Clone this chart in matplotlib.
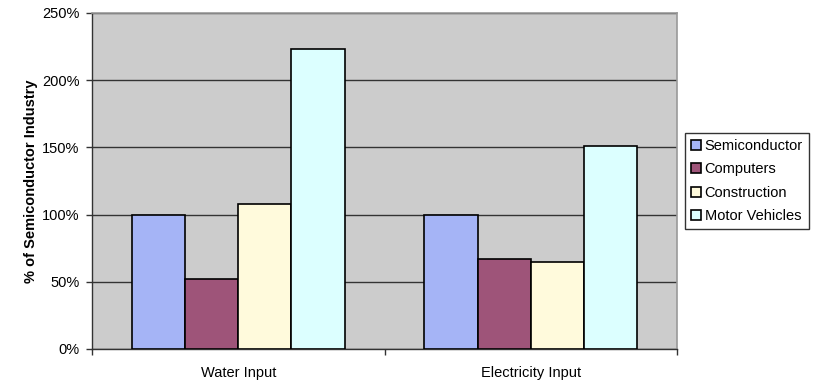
import matplotlib
matplotlib.use("Agg")
import matplotlib.pyplot as plt
from matplotlib.ticker import FixedLocator, PercentFormatter

plt.rcParams['font.family'] = ['Liberation Sans', 'DejaVu Sans']

categories = ["Water Input", "Electricity Input"]
series_names = ["Semiconductor", "Computers", "Construction", "Motor Vehicles"]
semiconductor = [100, 100]
computers = [52, 67]
construction = [108, 65]
motor_vehicles = [223, 151]
series_values = [semiconductor, computers, construction, motor_vehicles]
colors = ["#A5B4F6", "#9E5479", "#FFFADC", "#DCFFFF"]
y_ticks = [0, 50, 100, 150, 200, 250]

FS = 10.5

fig = plt.figure(figsize=(8.25, 3.84), dpi=100)
ax = fig.add_axes([92 / 825, 1 - 349 / 384, 585 / 825, 336 / 384])
ax.set_facecolor("#CCCCCC")

n = len(series_names)
width = 1 / (n + 1.5)
xs = list(range(len(categories)))
for i, (name, vals, col) in enumerate(zip(series_names, series_values, colors)):
    offs = [x + (i - (n - 1) / 2) * width for x in xs]
    ax.bar(offs, vals, width=width, color=col, edgecolor="black",
           linewidth=1.2, label=name, zorder=3)

ax.set_xlim(-0.5, len(categories) - 0.5)
ax.set_ylim(0, 250)
ax.yaxis.set_major_locator(FixedLocator(y_ticks))
ax.yaxis.set_major_formatter(PercentFormatter(decimals=0))
ax.grid(axis="y", color="#333333", linewidth=1.0, zorder=1)
ax.set_axisbelow(True)

ax.set_xticks(xs)
ax.set_xticklabels(categories)
ax.xaxis.set_minor_locator(FixedLocator([-0.5, 0.5, 1.5]))
ax.tick_params(axis="x", which="major", length=0, pad=12, labelsize=FS)
ax.tick_params(axis="x", which="minor", length=4, width=1, color="#333333")
ax.tick_params(axis="y", length=4, width=1, color="#333333", labelsize=FS, pad=5)

for side in ["top", "right"]:
    ax.spines[side].set_color("#999999")
    ax.spines[side].set_linewidth(1.2)
ax.spines["left"].set_color("#333333")
ax.spines["bottom"].set_color("#333333")
ax.spines["left"].set_linewidth(1.0)
ax.spines["bottom"].set_linewidth(1.0)

ax.set_ylabel("% of Semiconductor Industry", fontsize=FS, fontweight="bold", labelpad=3)

leg = ax.legend(loc="upper left", bbox_to_anchor=(685 / 825, 1 - 133 / 384),
                bbox_transform=fig.transFigure, frameon=True, fancybox=False,
                edgecolor="black", fontsize=FS, handlelength=0.7, handleheight=0.7,
                handletextpad=0.25, borderpad=0.4, labelspacing=0.65, borderaxespad=0)
leg.get_frame().set_linewidth(1.0)
for h in leg.legend_handles:
    h.set_linewidth(1.2)

fig.savefig("out.png", dpi=100)
